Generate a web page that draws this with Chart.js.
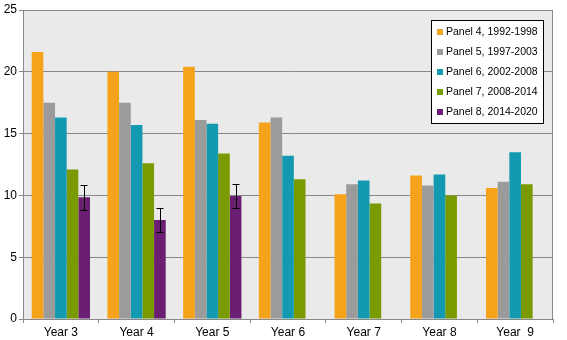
<!DOCTYPE html>
<html>
<head>
<meta charset="utf-8">
<script src="https://cdn.jsdelivr.net/npm/chart.js@4/dist/chart.umd.min.js"></script>
<style>
  html, body { margin: 0; padding: 0; background: #fff; }
  #wrap { width: 567px; height: 340px; }
</style>
</head>
<body>
<div id="wrap"><canvas id="chart" width="567" height="340"></canvas></div>
<script>
const years = ["Year 3", "Year 4", "Year 5", "Year 6", "Year 7", "Year 8", "Year  9"];
const panelNames = ["Panel 4, 1992-1998", "Panel 5, 1997-2003", "Panel 6, 2002-2008", "Panel 7, 2008-2014", "Panel 8, 2014-2020"];
const panelColors = ["#f5a31a", "#9b9b9b", "#1399b0", "#7a9a01", "#6b1f72"];

const panel4 = [21.6, 20.0, 20.4, 15.9, 10.1, 11.6, 10.6];
const panel5 = [17.5, 17.5, 16.1, 16.3, 10.9, 10.8, 11.1];
const panel6 = [16.3, 15.7, 15.8, 13.2, 11.2, 11.7, 13.5];
const panel7 = [12.1, 12.6, 13.4, 11.3, 9.35, 10.0, 10.9];
const panel8 = [9.85, 8.0, 9.95, null, null, null, null];
// error bar bounds for panel 8
const panel8Low  = [8.85, 7.0, 9.0, null, null, null, null];
const panel8High = [10.85, 9.0, 10.95, null, null, null, null];

const yTicks = [0, 5, 10, 15, 20, 25];

const series = [panel4, panel5, panel6, panel7, panel8];
const datasets = series.map((d, i) => ({
    label: panelNames[i],
    data: d,
    backgroundColor: panelColors[i],
    borderWidth: 0,
    barPercentage: 1.0,
    categoryPercentage: 0.77
}));

/* ── plot background + frame ── */
const plotFrame = {
    id: "plotFrame",
    beforeDraw(chart) {
        const { ctx, chartArea: a } = chart;
        ctx.save();
        ctx.fillStyle = "#eaeaea";
        ctx.fillRect(a.left, a.top, a.right - a.left, a.bottom - a.top);
        ctx.restore();
    },
    afterDatasetsDraw(chart) {
        const { ctx, chartArea: a } = chart;
        ctx.save();
        ctx.strokeStyle = "#888";
        ctx.lineWidth = 1;
        ctx.beginPath();
        ctx.moveTo(a.left + 0.5, a.top + 0.5);
        ctx.lineTo(a.right - 0.5, a.top + 0.5);
        ctx.lineTo(a.right - 0.5, a.bottom);
        ctx.stroke();
        ctx.restore();
    }
};

/* ── error bars on panel 8 ── */
const errorBars = {
    id: "errorBars",
    afterDatasetsDraw(chart) {
        const { ctx } = chart;
        const meta = chart.getDatasetMeta(4);
        const y = chart.scales.y;
        ctx.save();
        ctx.strokeStyle = "#000";
        ctx.lineWidth = 1;
        meta.data.forEach((bar, i) => {
            if (panel8Low[i] == null) return;
            const x = Math.round(bar.x) + 0.5;
            const yl = Math.round(y.getPixelForValue(panel8Low[i])) + 0.5;
            const yh = Math.round(y.getPixelForValue(panel8High[i])) + 0.5;
            ctx.beginPath();
            ctx.moveTo(x, yl); ctx.lineTo(x, yh);
            ctx.moveTo(x - 4, yl); ctx.lineTo(x + 3, yl);
            ctx.moveTo(x - 4, yh); ctx.lineTo(x + 3, yh);
            ctx.stroke();
        });
        ctx.restore();
    }
};

/* ── legend box inside the plot ── */
const boxLegend = {
    id: "boxLegend",
    afterDraw(chart) {
        const { ctx } = chart;
        const left = 431, top = 20, w = 112, h = 103;
        ctx.save();
        ctx.fillStyle = "#fff";
        ctx.fillRect(left, top, w, h);
        ctx.strokeStyle = "#000";
        ctx.lineWidth = 1;
        ctx.strokeRect(left + 0.5, top + 0.5, w, h);
        ctx.font = "10.5px 'Liberation Sans', Arial, sans-serif";
        ctx.textBaseline = "middle";
        panelNames.forEach((name, i) => {
            const cy = top + 12 + i * 20;
            ctx.fillStyle = panelColors[i];
            ctx.fillRect(left + 6, cy - 3, 6, 6);
            ctx.fillStyle = "#000";
            ctx.fillText(name, left + 15, cy + 0.5);
        });
        ctx.restore();
    }
};

new Chart(document.getElementById("chart"), {
    type: "bar",
    data: { labels: years, datasets },
    options: {
        responsive: false,
        animation: false,
        layout: { padding: { top: 10, right: 14, left: 0, bottom: 0 } },
        plugins: { legend: { display: false }, tooltip: { enabled: false } },
        scales: {
            x: {
                grid: { display: true, drawOnChartArea: false, color: "#888", tickLength: 4, offset: true },
                border: { color: "#888" },
                ticks: { color: "#000", font: { family: "'Liberation Sans', Arial, sans-serif", size: 12 }, padding: 2 },
                afterFit(s) { s.height = 21; }
            },
            y: {
                min: 0, max: 25,
                afterBuildTicks(s) { s.ticks = yTicks.map(v => ({ value: v })); },
                grid: { color: "#888", tickLength: 4 },
                border: { color: "#888" },
                ticks: { color: "#000", font: { family: "'Liberation Sans', Arial, sans-serif", size: 12 }, padding: 2 },
                afterFit(s) { s.width = 23; }
            }
        }
    },
    plugins: [plotFrame, errorBars, boxLegend]
});
</script>
</body>
</html>
